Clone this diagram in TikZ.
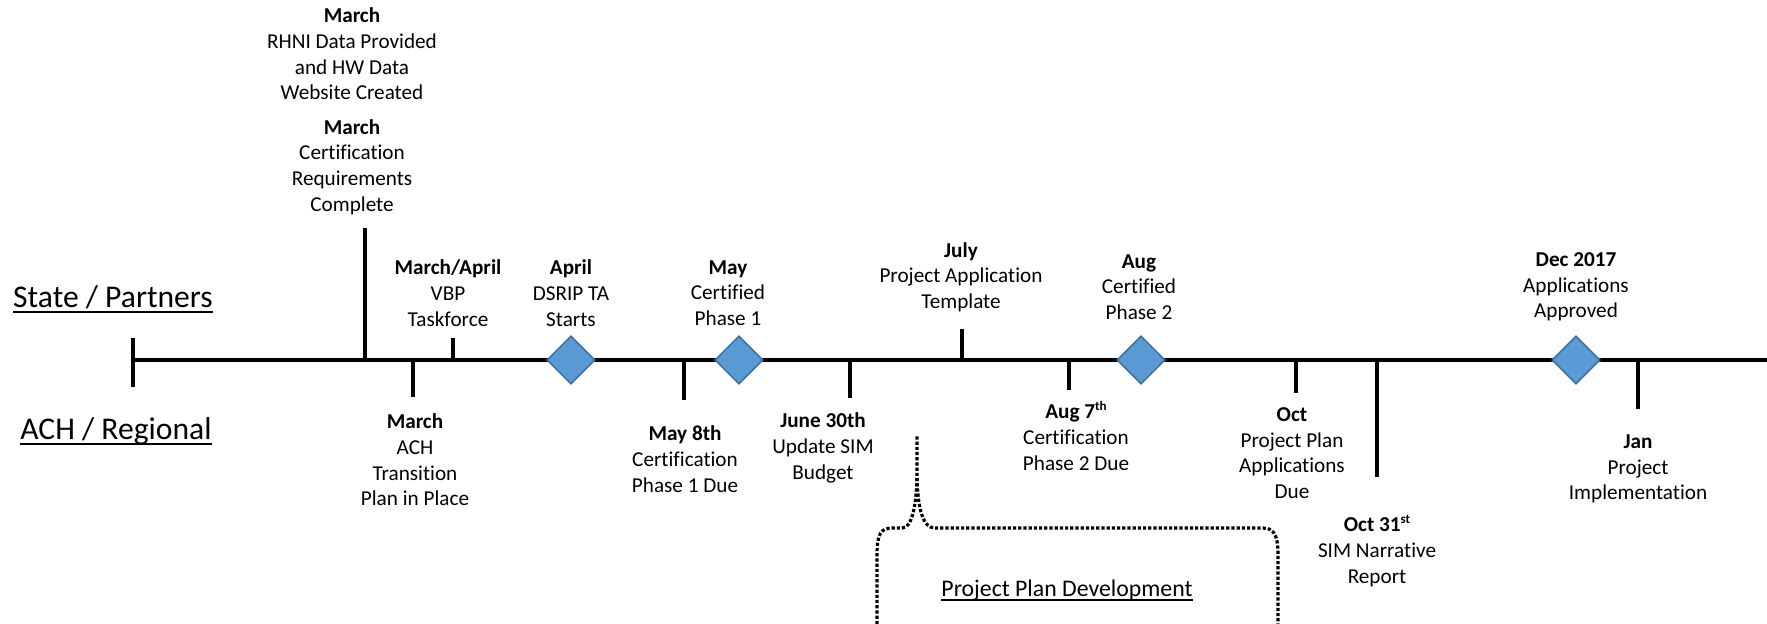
\documentclass[tikz,border=0pt]{standalone}
\usepackage{fontspec}
\setmainfont{Carlito}[Ligatures=NoCommon]
\usepackage{tikz}
\usetikzlibrary{shapes.geometric}
\usepackage{xcolor}

\definecolor{msblue}{RGB}{91,155,213}
\definecolor{msborder}{RGB}{65,113,156}

\newcommand{\evtfont}{\fontsize{10.6}{12.85}\selectfont}
\newcommand{\rowfont}{\fontsize{15.8}{19}\selectfont}
\newcommand{\devfont}{\fontsize{11.9}{14}\selectfont}
\newcommand{\ulined}[1]{\setbox0=\hbox{#1}\leavevmode\rlap{\copy0}\raisebox{-0.15em}{\rule{\wd0}{0.07em}}}
\newcommand{\supr}[1]{\raisebox{0.38em}{\fontsize{6.5}{7}\selectfont #1}}

\tikzset{
  evt/.style={align=center, font=\evtfont, inner sep=0pt},
  rowlabel/.style={font=\rowfont, inner sep=0pt, anchor=base},
  tick/.style={line width=2pt},
  milestone/.style={diamond, fill=msblue, draw=msborder, line width=0.8pt,
    minimum width=24pt, minimum height=24pt, inner sep=0pt},
  brace/.style={densely dotted, line width=1.6pt}
}

\begin{document}
\begin{tikzpicture}[x=0.5pt,y=-0.5pt]
\useasboundingbox (0,0) rectangle (1767,624);

% row labels
\node[rowlabel] (state) at (113,308) {\ulined{State / Partners}};
\node[rowlabel] (ach) at (116,440) {\ulined{ACH / Regional}};

% time line and ticks
\draw[tick] (133,360) -- (1767,360);
\draw[tick] (133,338) -- (133,387);
\draw[tick] (365,228) -- (365,360);
\draw[tick] (413,360) -- (413,397);
\draw[tick] (453,338) -- (453,360);
\draw[tick] (684,360) -- (684,400);
\draw[tick] (850,360) -- (850,398);
\draw[tick] (962,329) -- (962,360);
\draw[tick] (1069,360) -- (1069,390);
\draw[tick] (1296,360) -- (1296,393);
\draw[tick] (1377,360) -- (1377,477);
\draw[tick] (1638,360) -- (1638,409);

% milestones
\node[milestone] (dsripm) at (571,360) {};
\node[milestone] (cert1m) at (739,360) {};
\node[milestone] (cert2m) at (1141,360) {};
\node[milestone] (approvedm) at (1576,360) {};

% above the line
\node[evt] (rhni) at (352,54) {\textbf{March}\\RHNI Data Provided\\and HW Data\\Website Created};
\node[evt] (certreq) at (352,167) {\textbf{March}\\Certification\\Requirements\\Complete};
\node[evt] (vbp) at (448,293) {\textbf{March/April}\\VBP\\Taskforce};
\node[evt] (dsrip) at (571,293) {\textbf{April}\\DSRIP TA\\Starts};
\node[evt] (cert1) at (728,293) {\textbf{May}\\Certified\\Phase 1};
\node[evt] (template) at (961,277) {\textbf{July}\\Project Application\\Template};
\node[evt] (cert2) at (1139,287) {\textbf{Aug}\\Certified\\Phase 2};
\node[evt] (approved) at (1576,287) {\textbf{Dec 2017}\\Applications\\Approved};

% below the line
\node[evt] (transition) at (415,460) {\textbf{March}\\ACH\\Transition\\Plan in Place};
\node[evt] (due1) at (685,459) {\textbf{May 8th}\\Certification\\Phase 1 Due};
\node[evt] (budget) at (823,448) {\textbf{June 30th}\\Update SIM\\Budget};
\node[evt] (due2) at (1076,436) {\textbf{Aug 7\supr{th}}\\Certification\\Phase 2 Due};
\node[evt] (plandue) at (1292,453) {\textbf{Oct}\\Project Plan\\Applications\\Due};
\node[evt] (narrative) at (1377,551) {\textbf{Oct 31\supr{st}}\\SIM Narrative\\Report};
\node[evt] (implement) at (1638,469) {\textbf{Jan}\\Project\\Implementation};

% project plan brace
\draw[brace] (877,624) -- (877,555) .. controls (877,533) and (881,528) .. (893,528)
  -- (902,528) .. controls (911,528) and (916,510) .. (917,478) -- (917,435);
\draw[brace] (917,478) .. controls (918,510) and (923,528) .. (935,528)
  -- (1262,528) .. controls (1273,528) and (1278,533) .. (1278,555) -- (1278,624);
\node[font=\devfont, inner sep=0pt, anchor=base] (ppdev) at (1067,597) {\ulined{Project Plan Development}};
\end{tikzpicture}
\end{document}
